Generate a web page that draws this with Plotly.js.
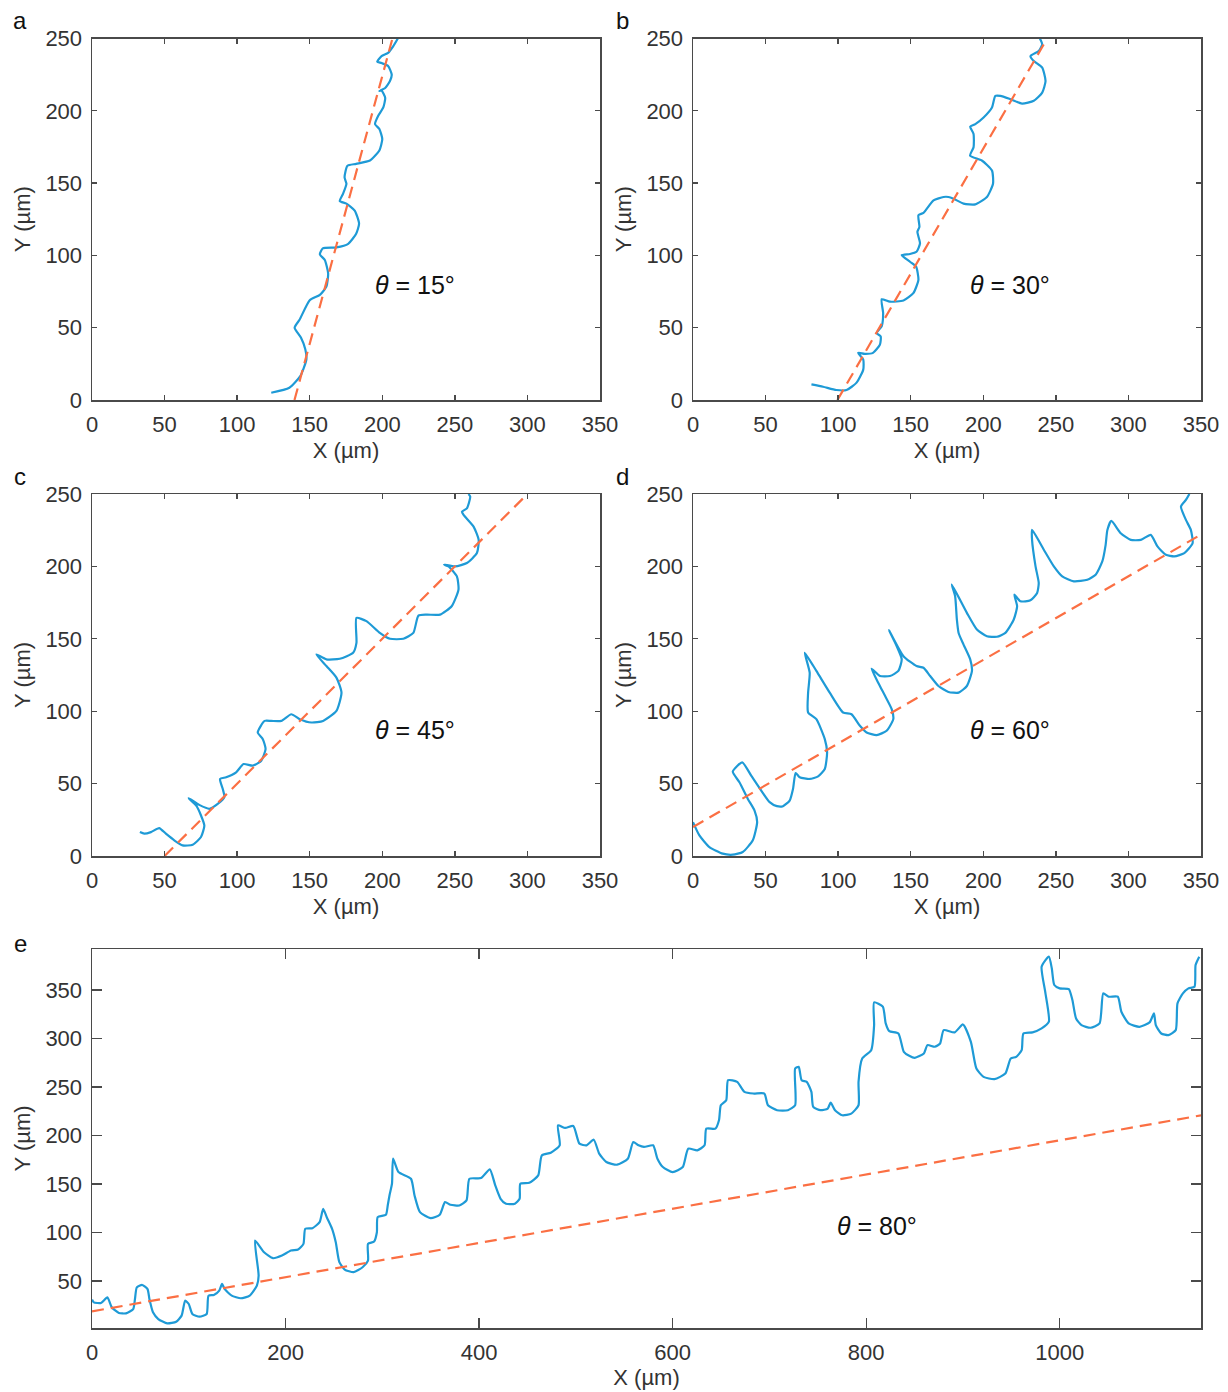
<!DOCTYPE html>
<html>
<head>
<meta charset="utf-8">
<script src="https://cdn.plot.ly/plotly-3.0.1.min.js"></script>
<style>html,body{margin:0;padding:0;background:#fff;}#chart{width:1228px;height:1392px;}</style>
</head>
<body>
<div id="chart"></div>
<script>
// ---------- data (µm) ----------
// panel a, theta = 15°
const aX = [123.5,136,143.5,147.7,147,144,139.6,143,150,157,161.5,162.7,160.4,157,159,168.4,176.5,182,184,181,175.3,170.7,173,175.3,174,176,182,191.5,198,200,198,195,197.2,200.7,202,199.5,198,201.8,205.3,206.5,204,199.5,196.5,199.5,204,207.6,211];
const aY = [5,8.5,16.5,28,35,43,50,55.5,69,72.7,78.4,87.6,96.8,100.7,104.8,105.5,108,115,122,131,135.8,137.6,142.7,149.5,154,162,163.3,165.6,172.5,180.5,187.4,190.8,196.6,202.3,209,214,213.8,215.6,220.6,225,231,233,234,237.8,240,244.7,250.5];
const aFitX = [139.5,207];
const aFitY = [0,250];

// panel b, theta = 30°
const bX = [81.6,89.6,98.8,105.8,112.7,117.3,117.3,113.8,118.4,124,128.8,129.3,126.5,130,131,130,135.7,145,151.8,155.3,153.7,149.5,143.8,149.5,154,156.4,154.6,156,155.3,158.8,165.7,172.6,176,179.5,186.4,194.5,202.5,206.7,206,199,190.9,193.3,193.3,191,194.5,200.2,206,208.3,211.8,218.7,226.7,234.8,240.6,242.9,240.6,234.8,232.5,238.2,240.6,239];
const bY = [10.8,9.2,6.9,6.9,12,21,28,32.6,31.9,32.6,38.3,44,46.3,51,60,69.7,68,68.8,73.9,83,92.2,95.6,100.2,101,102.5,108.3,116.3,119.7,127.8,129.4,138,140.4,140.4,139.2,135.8,135.3,140.4,149.5,158.7,165.6,169,174.8,184,189,190.8,195.4,202.3,210.3,210.3,208,205,206.9,212.6,220.6,229.8,234.4,237.8,241.3,245.9,250];
const bFitX = [99.5,244];
const bFitY = [0,250];

// panel c, theta = 45°
const cX = [33,36,40.6,46.3,50.9,56.7,62.4,69.4,75.1,77.4,75.1,71.7,66.6,73.9,80.9,86.6,91.2,90.1,88.2,92.4,99.3,104.4,110.8,116.6,119.6,117.7,114.2,118.9,123.5,130.4,137.3,143.1,151.2,159.2,168.4,171.9,168.4,161.5,154.6,161.5,170.7,179.9,182.2,182.2,189.1,198.3,205.3,214.5,221.4,224.9,230.6,239.8,247.8,252.5,251.4,245.6,242.6,250.2,258.3,265.2,266.4,262.9,256,254.9,258.3,260.6,259.4];
const cY = [16.5,15.4,16.5,19.3,15.4,10.8,7.3,7.8,13.1,21,28,34.9,39.9,35.3,32.6,36,40.6,46.3,53.2,54.4,57.8,63.5,62.4,65.8,73.9,80.7,85.3,93.3,93.3,93.3,97.9,94.5,92.2,93.3,100.2,112.8,123.2,131.2,139.2,135.8,136.2,140.4,147.2,164.4,162.2,154.1,150,150,154.1,166,166.7,166.7,172.5,184,193.1,200,201.2,200,202.3,209.2,218.3,227.5,235.6,237.8,240.1,248.2,250];
const cFitX = [50,300];
const cFitY = [0,250];

// panel d, theta = 60°
const dX = [0,4.4,11.3,20.5,27.4,34.3,41.2,44.2,42.4,37.8,32,27.4,33.9,40.1,47,52.8,57.8,62,66.6,68.9,70.7,73.5,80.4,86.2,90.8,92.4,90.8,85,79.3,79.3,80.4,77,85,94.2,103.4,109.2,115,119.6,126.5,133.4,138,136.9,132.3,127.6,123,128.8,135.7,141.5,143.8,140.3,135,145,154,158.8,163.4,169.1,176,183,188.7,192.2,191,186.4,183,181.8,180.6,178.3,188.7,195.6,202.5,209.4,215.2,221,223.3,221.4,225.6,232.5,237.1,238.2,236,233.6,233.6,241.7,248.6,254.4,262.4,271.7,277.4,282,284.3,285.5,288.2,294.7,301.6,308.5,315.4,320,325.8,331.6,338.5,344.2,343,339.6,336.2,339.6,342];
const dY = [23.4,14.2,6.2,1.6,0.9,2.8,10.8,23.4,31.4,39.4,50.9,58.3,64.7,55.5,45.2,37.2,34.4,34.4,38.3,46.3,57.3,54.4,53.2,55,60.1,71.6,80.7,94.5,99.1,112.8,126.6,140.4,127.8,112.8,99.1,97.9,89.9,85.3,83.5,86.5,94.5,101.4,110.6,119.7,129.4,124.3,124.3,127.8,135.8,145,156,138,131.2,130,124.3,117.4,113.3,112.8,117.4,127.8,135.8,146,154,163.3,179.4,187.4,167.9,156.4,151.8,151.4,154.1,163.3,172.5,180.5,175.9,176.6,181.7,188.5,200,218.3,225.2,211.5,200,193.1,189.7,190.8,194.3,203.4,214.9,225.2,231.4,222.9,218.3,218.3,221.8,213.8,208,206.9,209.2,216,225.2,232.1,241.3,245.9,250];
const dFitX = [0,350];
const dFitY = [20,222];

// panel e, theta = 80°
const eX = [0,1.9,9.3,15.9,20.4,27.8,35.2,42.6,44.4,46.3,51.9,57.4,59.3,63,68.5,77.8,87,92.6,96.3,100,103.7,111.1,118.5,120.4,125.9,131.5,134.4,137,144.4,153.7,163,170.4,172.2,168.5,177.8,187,196.3,205.6,213,218.5,220.4,227.8,235.2,238.9,242.6,248.1,251.9,255.6,261.1,270.4,279.6,285.2,285.2,291.5,294.4,295.2,303.7,305.6,307.4,310,311.1,316.7,329.6,333.3,338.9,350,359.3,364.8,370.4,379.6,387,390,401.9,411.1,416.7,422.2,427.8,437,441.9,442.6,451.9,461.1,464.8,474.1,483.3,481.5,488.9,497.4,503.7,511.1,518.5,524.1,531.5,542.6,553.7,559.3,564.8,570.4,579.8,584.3,589.9,600,610.5,616.1,625.5,633,634.8,644.2,647.9,649.8,655.4,657.3,666.7,674.2,683.5,694.8,698.5,707.9,719.1,726.6,726.6,730.3,733.3,738.6,743.4,745.3,752.8,760.3,763.3,767.8,775.3,784.6,792.1,792.1,795.9,805.2,808.2,808.2,817.2,820.2,823.9,833.3,838.9,844.5,850.2,859.6,863.3,870.8,876.4,880.1,891.4,900,908.2,913.9,921.3,932.6,943.8,949.4,955,960.7,962.5,971.9,981.3,988.8,985,981.3,988.8,991.8,994.4,1000,1009.4,1013.1,1016.9,1022.5,1031.8,1041.2,1045,1050.6,1060,1063.7,1071.2,1082.4,1092.9,1097.4,1099.3,1104.9,1112.4,1119.9,1121.7,1127.3,1133,1139.3,1140.4,1144.2];
const eY = [30.8,28,27.3,33.2,22.9,17,16.7,21.1,31.5,43.5,45.9,41.7,31.5,17.7,10.8,6.3,8,14.3,29.8,26.3,16,13.2,16,34.9,35.6,40.1,47,41.8,34.9,32.2,34.9,45.3,55.6,91.7,79.7,73.5,76.2,81.4,82.4,88.3,103.8,104.5,110.7,124.4,115.8,103.8,90,69.4,61.8,59.1,64.2,71.1,88.3,90.7,100.3,115.8,118.3,127.9,138.2,150.3,176.1,162.3,155.4,138.2,121,114.8,118.3,131.3,128.6,127.9,133.1,155.4,156.1,165.1,148.6,134.8,129.6,129.6,134.8,150.3,151.3,158.9,179.5,182.3,189.9,210.5,207.8,209.8,191.6,189.9,195.7,181.3,172.7,169.9,176.1,193.3,189.9,188.2,189.9,176.1,167.5,162.3,167.5,186.4,184.7,189.9,207.1,207.1,215.7,231.2,236.4,257,255.3,245,243.3,243.3,231.2,226.1,226.1,231.2,269.1,270.8,257,255.3,245,229.5,226.1,227.8,234,226.1,220.9,222.6,231.2,255.3,279.4,288,313.8,337.3,332.8,315.6,307.6,305.2,286.3,282.2,280.1,284.6,293.2,291.5,294.9,308.7,306.3,314.5,296.6,269.1,260.5,258.1,263.9,279.4,281.1,288,305.2,306.3,310.4,317.3,348.3,374.1,384.4,372.4,355.2,351.7,351,339.7,320.7,313.8,311.1,315.6,346.6,343.1,343.1,327.6,315.6,312.1,316.6,325.9,313.8,305.2,303.5,308.7,336.2,346.6,351.7,353.4,375.8,384.4];
const eFitX = [0,1146];
const eFitY = [18.7,220.8];

// labels
const panelLetters = ['a','b','c','d','e'];
const thetaLabels = ['15°','30°','45°','60°','80°'];
const thetaPosX = [222.6,218.5,222.6,218.5,811];
const thetaPosY = [79.6,79.6,87.3,87.3,106.7];
const smallTicks = [0,50,100,150,200,250,300,350];
const eXTicks = [0,200,400,600,800,1000];
const eYTicks = [50,100,150,200,250,300,350];

// ---------- styling ----------
const W = 1228, H = 1392;
const FONT = 'Liberation Sans, Arial, Helvetica, sans-serif';
const BLUE = '#1e9ad6';
const ORANGE = '#fb6f43';
const AXC = '#4a4a4a';
const TXT = '#333333';

const px = v => v / W;
const py = v => 1 - v / H;

const panels = [
  {x: aX, y: aY, fx: aFitX, fy: aFitY, dom: [92, 600, 38.5, 400]},
  {x: bX, y: bY, fx: bFitX, fy: bFitY, dom: [693, 1201, 38.5, 400]},
  {x: cX, y: cY, fx: cFitX, fy: cFitY, dom: [92, 600, 494, 856]},
  {x: dX, y: dY, fx: dFitX, fy: dFitY, dom: [693, 1201, 494, 856]},
  {x: eX, y: eY, fx: eFitX, fy: eFitY, dom: [92, 1201, 949, 1328]}
];

const traces = [];
const layout = {
  width: W, height: H,
  margin: {l: 0, r: 0, t: 0, b: 0},
  paper_bgcolor: '#fff', plot_bgcolor: '#fff',
  showlegend: false,
  font: {family: FONT, color: TXT, size: 22},
  annotations: []
};

panels.forEach((p, i) => {
  const n = i === 0 ? '' : String(i + 1);
  const xa = 'x' + n, ya = 'y' + n;
  traces.push({x: p.x, y: p.y, xaxis: xa, yaxis: ya, mode: 'lines', type: 'scatter',
    line: {color: BLUE, width: 2.2, shape: 'spline', smoothing: 0.55}, hoverinfo: 'skip'});
  traces.push({x: p.fx, y: p.fy, xaxis: xa, yaxis: ya, mode: 'lines', type: 'scatter',
    line: {color: ORANGE, width: 2.2, dash: '12px,7px'}, hoverinfo: 'skip'});
  const isE = i === 4;
  const common = {
    showgrid: false, zeroline: false, showline: true, mirror: 'ticks',
    linecolor: AXC, linewidth: 1.5, ticks: 'inside', tickcolor: AXC,
    ticklen: isE ? 10 : 5, tickwidth: 1.3,
    tickfont: {family: FONT, size: 22, color: TXT},
    tickmode: 'array', ticklabelstandoff: 4
  };
  layout['xaxis' + n] = Object.assign({}, common, {
    domain: [px(p.dom[0]), px(p.dom[1])],
    anchor: ya,
    range: isE ? [0, 1146] : [0, 350],
    tickvals: isE ? eXTicks : smallTicks,
    title: {text: 'X (µm)', font: {family: FONT, size: 22, color: TXT}, standoff: isE ? 4 : 6}
  });
  layout['yaxis' + n] = Object.assign({}, common, {
    domain: [py(p.dom[3]), py(p.dom[2])],
    anchor: xa,
    range: isE ? [1.55, 392.3] : [0, 250],
    tickvals: isE ? eYTicks : [0,50,100,150,200,250],
    title: {text: 'Y (µm)', font: {family: FONT, size: 22, color: TXT}, standoff: 8}
  });
  layout.annotations.push({
    xref: xa, yref: ya, x: thetaPosX[i], y: thetaPosY[i],
    text: '<i>θ</i> = ' + thetaLabels[i], showarrow: false,
    font: {family: FONT, size: 25, color: '#111'}, xanchor: 'center', yanchor: 'middle'
  });
});

const letterPos = [[20, 20], [622, 20], [20, 476], [622, 476], [20, 944]];
panelLetters.forEach((L, i) => {
  layout.annotations.push({
    xref: 'paper', yref: 'paper', x: px(letterPos[i][0]), y: py(letterPos[i][1]),
    text: L, showarrow: false, xanchor: 'center', yanchor: 'middle',
    font: {family: FONT, size: 24, color: '#111'}
  });
});

Plotly.newPlot('chart', traces, layout, {staticPlot: true, displayModeBar: false});
</script>
</body>
</html>
